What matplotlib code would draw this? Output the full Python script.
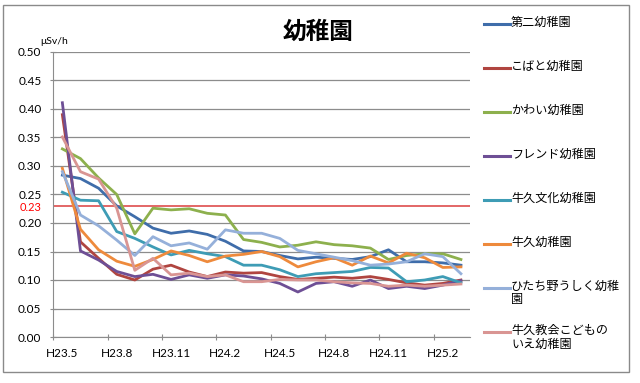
import numpy as np
import matplotlib
matplotlib.use("Agg")
import matplotlib.pyplot as plt
from matplotlib.lines import Line2D
from matplotlib.patches import Rectangle

plt.rcParams['font.family'] = ['Noto Sans CJK JP', 'DejaVu Sans']

months = ["H23.5", "H23.6", "H23.7", "H23.8", "H23.9", "H23.10", "H23.11", "H23.12",
          "H24.1", "H24.2", "H24.3", "H24.4", "H24.5", "H24.6", "H24.7", "H24.8",
          "H24.9", "H24.10", "H24.11", "H24.12", "H25.1", "H25.2", "H25.3"]

names = ["第二幼稚園", "こばと幼稚園", "かわい幼稚園", "フレンド幼稚園", "牛久文化幼稚園",
         "牛久幼稚園", "ひたち野うしく幼稚\n園", "牛久教会こどもの\nいえ幼稚園"]

daini = [0.284, 0.278, 0.261, 0.230, 0.211, 0.191, 0.182, 0.186, 0.180, 0.168, 0.151, 0.150,
         0.143, 0.137, 0.140, 0.138, 0.136, 0.141, 0.153, 0.132, 0.132, 0.130, 0.126]
kobato = [0.390, 0.167, 0.138, 0.110, 0.100, 0.119, 0.126, 0.114, 0.106, 0.114, 0.112, 0.113,
          0.106, 0.101, 0.103, 0.105, 0.103, 0.106, 0.101, 0.095, 0.091, 0.094, 0.100]
kawai = [0.330, 0.313, 0.279, 0.250, 0.181, 0.226, 0.223, 0.225, 0.217, 0.214, 0.171, 0.166,
         0.158, 0.161, 0.167, 0.162, 0.160, 0.156, 0.136, 0.143, 0.146, 0.146, 0.136]
friend = [0.411, 0.151, 0.135, 0.115, 0.106, 0.110, 0.101, 0.109, 0.103, 0.109, 0.107, 0.102,
          0.094, 0.079, 0.094, 0.097, 0.089, 0.100, 0.085, 0.089, 0.085, 0.091, 0.099]
bunka = [0.254, 0.240, 0.239, 0.185, 0.173, 0.158, 0.144, 0.152, 0.146, 0.141, 0.126, 0.126,
         0.118, 0.106, 0.111, 0.113, 0.115, 0.122, 0.121, 0.097, 0.100, 0.106, 0.095]
ushiku = [0.296, 0.189, 0.153, 0.133, 0.124, 0.136, 0.151, 0.143, 0.132, 0.142, 0.145, 0.150,
          0.141, 0.123, 0.132, 0.139, 0.126, 0.142, 0.130, 0.147, 0.139, 0.122, 0.123]
hitachino = [0.290, 0.214, 0.195, 0.170, 0.143, 0.176, 0.160, 0.165, 0.154, 0.188, 0.182, 0.182,
             0.173, 0.152, 0.146, 0.140, 0.134, 0.126, 0.128, 0.132, 0.146, 0.141, 0.111]
kyokai = [0.351, 0.290, 0.277, 0.226, 0.117, 0.138, 0.109, 0.112, 0.106, 0.109, 0.097, 0.097,
          0.101, 0.100, 0.100, 0.097, 0.095, 0.094, 0.089, 0.091, 0.089, 0.091, 0.093]

series = [daini, kobato, kawai, friend, bunka, ushiku, hitachino, kyokai]
colors = ['#3F6DAA', '#B04540', '#8DB04D', '#6E4F95', '#3E9CB5', '#EE8A3C', '#95B0DA', '#D99593']

threshold = 0.23
yticks = [0.00, 0.05, 0.10, 0.15, 0.20, 0.25, 0.30, 0.35, 0.40, 0.45, 0.50]

W, H = 640, 383
fig = plt.figure(figsize=(6.4, 3.83), dpi=100)
fig.add_artist(Rectangle((3 / W, 1 - 372 / H), 626 / W, 367 / H, transform=fig.transFigure,
                         fill=False, edgecolor='#8a8a8a', lw=1))

ax = fig.add_axes([53.3 / W, 1 - 337 / H, (470 - 53.3) / W, (337 - 52) / H])
x = np.arange(len(months))
for s, c in zip(series, colors):
    ax.plot(x, s, color=c, lw=2.0, solid_joinstyle='round', zorder=3)

ax.axhline(threshold, color='#E05A5A', lw=1.3, zorder=2)

ax.set_xlim(-0.5, len(months) - 0.5)
ax.set_ylim(0, 0.5)
ax.set_yticks(yticks)
ax.set_yticklabels([f"{v:.2f}" for v in yticks])
ax.yaxis.grid(True, color='#8c8c8c', lw=0.9)
ax.set_axisbelow(True)

ax.set_xticks(np.arange(-0.5, len(months) - 1, 3))
ax.set_xticklabels([])
ax.set_xticks(np.arange(0, len(months), 3), minor=True)
ax.set_xticklabels(months[::3], minor=True)
ax.tick_params(axis='x', which='minor', length=0, pad=8, labelsize=8.5)
ax.tick_params(axis='x', which='major', direction='inout', length=5, color='#8c8c8c')
ax.tick_params(axis='y', direction='inout', length=5, color='#8c8c8c', pad=6, labelsize=8.5)
for lab in ax.get_yticklabels() + ax.get_xticklabels(minor=True):
    lab.set_fontfamily('Lato')

for sp in ['top', 'right']:
    ax.spines[sp].set_visible(False)
for sp in ['left', 'bottom']:
    ax.spines[sp].set_color('#8c8c8c')

ax.annotate(f"{threshold:.2f}", xy=(0, threshold), xycoords=ax.get_yaxis_transform(),
            xytext=(-8.5, -1.5), textcoords='offset points', ha='right', va='center',
            color='#FF0000', fontsize=8, family='Lato')

fig.text(318 / W, 1 - 32 / H, "幼稚園", fontsize=17, fontweight='bold', ha='center', va='center')
fig.text(54 / W, 1 - 42 / H, "μSv/h", fontsize=7.5, ha='center', va='center', family='Lato')

for i, (nm, c) in enumerate(zip(names, colors)):
    yp = 24 + 44 * i
    fig.add_artist(Line2D([484 / W, 510 / W], [1 - yp / H, 1 - yp / H], transform=fig.transFigure,
                          color=c, lw=2.2))
    fig.text(511 / W, 1 - (yp - 8) / H, nm, fontsize=8.7, ha='left', va='top', linespacing=1.05)

fig.savefig("out.png", dpi=100)
